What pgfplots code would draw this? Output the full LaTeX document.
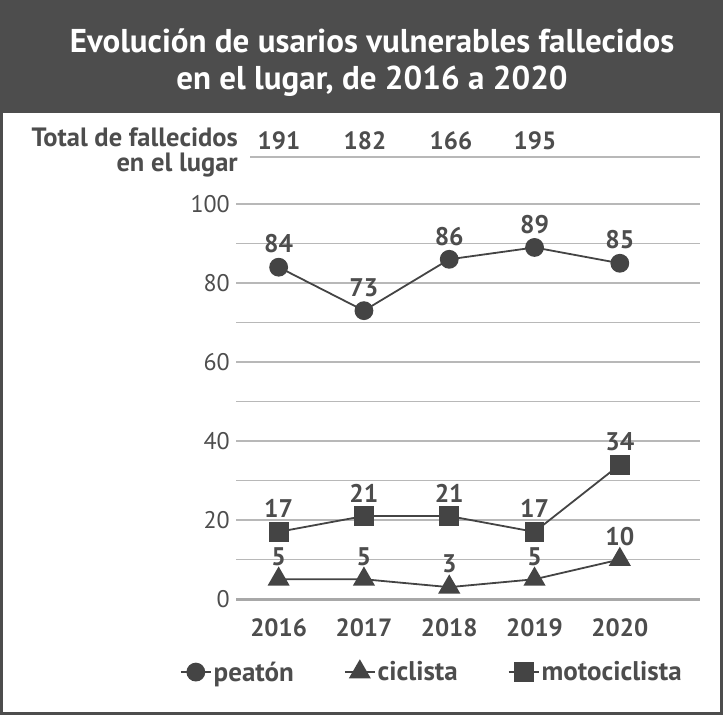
\documentclass[border=0pt]{standalone}
\usepackage{fontspec}
\setmainfont{PT Sans}
\usepackage{pgfplots}
\pgfplotsset{compat=1.18}
\definecolor{dk}{HTML}{4D4D4D}
\definecolor{ln}{HTML}{444444}
\definecolor{grd}{HTML}{B8B8B8}
\definecolor{zer}{HTML}{A8A8A8}
\begin{document}
\begin{tikzpicture}[x=1pt,y=1pt]
\useasboundingbox (0,0) rectangle (723,-715);
\fill[dk] (0,0) rectangle (723,-113);
\draw[dk, line width=3pt] (1.5,-1.5) rectangle (721.5,-713.5);
\node[white, font=\fontsize{33}{37}\selectfont\bfseries, align=center] at (372,-63) {Evolución de usarios vulnerables fallecidos\\en el lugar, de 2016 a 2020};
\node[dk, font=\fontsize{26.5}{25}\selectfont\bfseries, align=right, anchor=east, inner sep=0pt] at (238,-152) {Total de fallecidos\\en el lugar};
\foreach \xx/\tt in {279/191, 365/182, 451/166, 535/195}
  \node[dk, font=\fontsize{25}{25}\selectfont\bfseries] at (\xx,-141) {\tt};
\draw[grd, line width=1.5pt] (250,-157) -- (700,-157);
\begin{axis}[
  at={(236pt,-599pt)}, anchor=south west,
  scale only axis, width=464pt, height=395pt,
  xmin=2015.5, xmax=2020.94, ymin=0, ymax=100,
  clip=false,
  axis line style={draw=none},
  tick style={draw=none},
  xtick={2016,2017,2018,2019,2020},
  ytick={0,20,40,60,80,100},
  minor ytick={10,30,50,70,90},
  ymajorgrids, yminorgrids,
  major grid style={grd, line width=1.5pt},
  minor grid style={grd, line width=1.5pt},
  /pgf/number format/assume math mode=true,
  /pgf/number format/1000 sep={},
  xticklabel style={dk, font=\fontsize{25}{25}\selectfont\bfseries, anchor=north, inner sep=0pt, yshift=-19pt},
  yticklabel style={dk, font=\fontsize{24}{24}\selectfont, anchor=east, inner sep=0pt, xshift=-6pt},
  nodes near coords,
  nodes near coords style={dk, font=\fontsize{25.5}{25}\selectfont\bfseries, anchor=south, inner sep=0pt, yshift=13pt},
  legend style={at={(0.422,-0.185)}, anchor=center, draw=none, fill=none,
    font=\fontsize{27}{27}\selectfont\bfseries, text=dk,
    /tikz/every even column/.append style={column sep=48pt}},
  legend columns=3,
  legend image code/.code={\draw[mark repeat=2,mark phase=2] plot coordinates {(0pt,0pt) (15pt,0pt) (30pt,0pt)};},
]
\draw[zer, line width=3pt] (axis cs:2015.5,0) -- (axis cs:2020.94,0);
\addplot[ln, line width=1.8pt, mark=*, mark size=8.5pt, mark options={fill=ln}] coordinates {(2016,84) (2017,73) (2018,86) (2019,89) (2020,85)};
\addlegendentry{peatón}
\addplot[ln, line width=1.8pt, mark=triangle*, mark size=11pt, mark options={fill=ln}] coordinates {(2016,5) (2017,5) (2018,3) (2019,5) (2020,10)};
\addlegendentry{ciclista}
\addplot[ln, line width=1.8pt, mark=square*, mark size=9pt, mark options={fill=ln}] coordinates {(2016,17) (2017,21) (2018,21) (2019,17) (2020,34)};
\addlegendentry{motociclista}
\end{axis}
\end{tikzpicture}
\end{document}
